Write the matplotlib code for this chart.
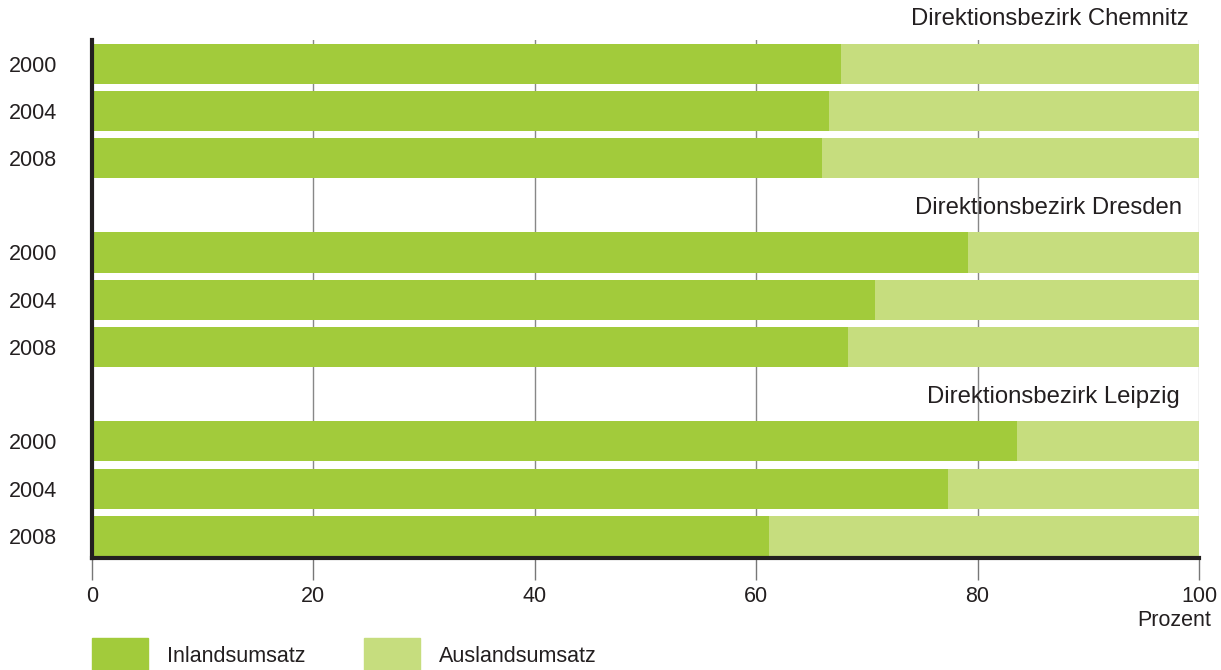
import matplotlib
matplotlib.use("Agg")
import matplotlib.pyplot as plt
from matplotlib.patches import Rectangle
import numpy as np

plt.rcParams["font.family"] = ["Liberation Sans", "DejaVu Sans"]

# ─── Data ──────────────────────────────────────────────────────────────────
regions = ["Direktionsbezirk Chemnitz", "Direktionsbezirk Dresden", "Direktionsbezirk Leipzig"]
title_right = [99.1, 98.5, 98.3]   # right edge of each region title (axis units)
years = ["2000", "2004", "2008"]
inland = [
    [67.7, 66.6, 65.9],   # Chemnitz
    [79.1, 70.7, 68.3],   # Dresden
    [83.6, 77.3, 61.2],   # Leipzig
]
ausland = [[100 - v for v in row] for row in inland]
series_names = ["Inlandsumsatz", "Auslandsumsatz"]
x_ticks = [0, 20, 40, 60, 80, 100]

DARK = "#A2CB3B"
LIGHT = "#C6DD7E"
TXT = "#231F20"
FS = 15.5

fig = plt.figure(figsize=(12.21, 6.70), dpi=100)
ax = fig.add_axes([92 / 1221, 1 - 558 / 670, (1199 - 92) / 1221, (558 - 40) / 670])

# slot layout: one empty slot per region (for its title) above its three bars
ypos, ylabels, title_pos = [], [], []
slot = -1
for r, name in enumerate(regions):
    title_pos.append(slot)
    for j, yr in enumerate(years):
        slot += 1
        ypos.append(slot)
        ylabels.append(yr)
    slot += 1

inl = np.array(inland).ravel()
aus = np.array(ausland).ravel()
ax.barh(ypos, inl, height=0.85, color=DARK, zorder=2)
ax.barh(ypos, aus, left=inl, height=0.85, color=LIGHT, zorder=2)

for name, tp, xr in zip(regions, title_pos, title_right):
    ax.text(xr, tp + 0.05, name, ha="right", va="center", fontsize=17.2,
            color=TXT, clip_on=False)

ax.set_xlim(0, 100)
ax.set_ylim(10.47, -0.5)
ax.set_yticks(ypos)
ax.set_yticklabels(ylabels, fontsize=FS, color=TXT)
ax.tick_params(axis="y", length=0, pad=25)
ax.set_xticks(x_ticks)
ax.set_xticklabels([str(t) for t in x_ticks], fontsize=FS, color=TXT)
ax.tick_params(axis="x", length=16, width=1, color="#777777", pad=4)

# grid
for t in x_ticks[1:]:
    ax.axvline(t, color="#BBBBBB" if t == 100 else "#888888", lw=1, zorder=1)

for s in ["top", "right"]:
    ax.spines[s].set_visible(False)
for s in ["left", "bottom"]:
    ax.spines[s].set_linewidth(3)
    ax.spines[s].set_color(TXT)
    ax.spines[s].set_zorder(3)

fig.text(1211 / 1221, 1 - 620 / 670, "Prozent", ha="right", va="center",
         fontsize=FS, color=TXT)

# legend
for i, (name, col) in enumerate(zip(series_names, [DARK, LIGHT])):
    x0 = (92 + i * 272) / 1221
    fig.patches.append(Rectangle((x0, 0), 56 / 1221, 32 / 670,
                                 transform=fig.transFigure, color=col))
    fig.text(x0 + 75 / 1221, 1 - 656 / 670, name, ha="left", va="center",
             fontsize=FS, color=TXT)

fig.savefig("out.png", dpi=100)
